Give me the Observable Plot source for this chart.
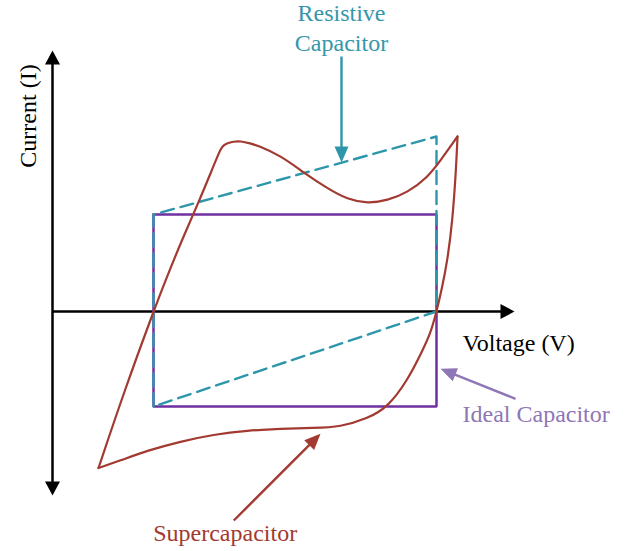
<!DOCTYPE html>
<html>
<head>
<meta charset="utf-8">
<script src="https://cdn.jsdelivr.net/npm/d3@7"></script>
<script src="https://cdn.jsdelivr.net/npm/@observablehq/plot@0.6"></script>
<style>
  html, body { margin: 0; padding: 0; background: #fff; }
  #chart svg { display: block; }
</style>
</head>
<body>
<div id="chart"></div>
<script>
// Ideal capacitor: rectangle
const idealV = [1.01, 3.84, 3.84, 1.01, 1.01];
const idealI = [0.97, 0.97, -0.95, -0.95, 0.97];

// Resistive capacitor: parallelogram (dashed)
const resistiveV = [1.01, 1.01, 3.84, 3.84, 1.01];
const resistiveI = [-0.95, 0.97, 1.75, 0.00, -0.95];

// Supercapacitor: forward (charge) sweep
const superChargeV = [0.46, 0.46, 0.72, 1.01, 1.13, 1.30, 1.46, 1.60, 1.67, 1.70, 1.74, 1.81, 1.88, 1.98, 2.05, 2.28, 2.51, 2.75, 2.95, 3.15, 3.35, 3.55, 3.75, 3.88, 4.05, 4.05];
const superChargeI = [-1.565, -1.565, -0.79, 0.00, 0.31, 0.73, 1.09, 1.43, 1.60, 1.655, 1.68, 1.70, 1.705, 1.68, 1.66, 1.56, 1.39, 1.23, 1.12, 1.08, 1.11, 1.19, 1.34, 1.51, 1.75, 1.75];
// Supercapacitor: reverse (discharge) sweep
const superDischargeV = [4.05, 4.05, 4.035, 4.00, 3.95, 3.89, 3.84, 3.78, 3.70, 3.55, 3.35, 3.15, 2.88, 2.61, 2.28, 1.95, 1.61, 1.28, 0.95, 0.68, 0.46, 0.46];
const superDischargeI = [1.75, 1.75, 1.41, 0.91, 0.51, 0.21, 0.00, -0.22, -0.39, -0.69, -0.96, -1.07, -1.155, -1.165, -1.172, -1.19, -1.23, -1.30, -1.39, -1.49, -1.565, -1.565];

// Axes
const axisNames = ["current", "voltage"];
const axisFromV = [0, 0];
const axisFromI = [-1.84, 0];
const axisToV = [0, 4.62];
const axisToI = [2.61, 0];
const axisDoubleHeaded = [true, false];
const axisTitles = ["Current (I)", "Voltage (V)"];
const axisTitleV = [-0.17, 4.10];
const axisTitleI = [1.955, -0.397];

// Annotation labels and pointer arrows
const seriesKeys = ["resistive", "ideal", "super"];
const labelText = ["Resistive\nCapacitor", "Ideal Capacitor", "Supercapacitor"];
const labelV = [2.89, 4.10, 1.007];
const labelI = [2.61, -1.107, -2.297];
const arrowTailV = [2.89, 4.63, 1.813];
const arrowTailI = [2.55, -0.873, -2.09];
const arrowTipV = [2.89, 3.88, 2.68];
const arrowTipI = [1.49, -0.573, -1.223];

// ---------- STYLES ----------
const W = 629, H = 551;
const xDomain = [-0.52, 5.77];
const yDomain = [-2.40, 3.11];
const PX = W / (xDomain[1] - xDomain[0]); // pixels per unit (same on both axes)
const color = {
  super: "#a23a31",
  superLabel: "#a23a31",
  resistive: "#2e96ab",
  resistiveLabel: "#3596aa",
  ideal: "#7030a0",
  idealLabel: "#8f76b6",
  axis: "#000000"
};
const labelColor = {resistive: color.resistiveLabel, ideal: color.idealLabel, super: color.superLabel};
const arrowColor = {resistive: color.resistive, ideal: color.idealLabel, super: color.super};
const FONT = "'Liberation Serif', 'Times New Roman', serif";

function headSymbol(len, wid) {
  return {draw(ctx) { ctx.moveTo(0, 0); ctx.lineTo(-wid / 2, len); ctx.lineTo(wid / 2, len); ctx.closePath(); }};
}
const AXIS_HEAD = {len: 14, wid: 15};
const NOTE_HEAD = {len: 16, wid: 14};
const angleOf = (x1, y1, x2, y2) => Math.atan2(x2 - x1, y2 - y1) * 180 / Math.PI;
function pullBack(x1, y1, x2, y2, px) {
  const dx = x2 - x1, dy = y2 - y1, L = Math.hypot(dx, dy) * PX, k = (L - px) / L;
  return [x1 + dx * k, y1 + dy * k];
}

// ---------- TABLES ----------
const ideal = idealV.map((v, i) => ({v, i: idealI[i]}));
const resistive = resistiveV.map((v, i) => ({v, i: resistiveI[i]}));
const supercap = [
  ...superChargeV.map((v, k) => ({v, i: superChargeI[k], sweep: "charge"})),
  ...superDischargeV.map((v, k) => ({v, i: superDischargeI[k], sweep: "discharge"}))
];

const axisShafts = axisNames.map((name, k) => {
  const [x1, y1, x2, y2] = [axisFromV[k], axisFromI[k], axisToV[k], axisToI[k]];
  const [ex, ey] = pullBack(x1, y1, x2, y2, AXIS_HEAD.len - 1);
  let sx = x1, sy = y1;
  if (axisDoubleHeaded[k]) [sx, sy] = pullBack(x2, y2, x1, y1, AXIS_HEAD.len - 1);
  return {x1: sx, y1: sy, x2: ex, y2: ey};
});
const axisHeads = [];
axisNames.forEach((name, k) => {
  const x1 = axisFromV[k], y1 = axisFromI[k], x2 = axisToV[k], y2 = axisToI[k];
  axisHeads.push({x: x2, y: y2, a: angleOf(x1, y1, x2, y2)});
  if (axisDoubleHeaded[k]) axisHeads.push({x: x1, y: y1, a: angleOf(x2, y2, x1, y1)});
});
const axisLabels = axisTitles.map((t, k) => ({t, x: axisTitleV[k], y: axisTitleI[k], vertical: k === 0}));

const notes = seriesKeys.map((s, k) => {
  const [ex, ey] = pullBack(arrowTailV[k], arrowTailI[k], arrowTipV[k], arrowTipI[k], NOTE_HEAD.len - 1);
  return {
    s, text: labelText[k], lx: labelV[k], ly: labelI[k],
    x1: arrowTailV[k], y1: arrowTailI[k], x2: ex, y2: ey,
    tx: arrowTipV[k], ty: arrowTipI[k],
    a: angleOf(arrowTailV[k], arrowTailI[k], arrowTipV[k], arrowTipI[k])
  };
});
const textOpts = {x: "lx", y: "ly", text: "text", fill: d => labelColor[d.s], lineAnchor: "bottom", lineHeight: 1.22, fontSize: 24, fontFamily: FONT};

// ---------- PLOT ----------
const chart = Plot.plot({
  width: W,
  height: H,
  margin: 0,
  x: {domain: xDomain, axis: null},
  y: {domain: yDomain, axis: null},
  color: {type: "identity"},
  style: {background: "#fff"},
  marks: [
    // axes
    Plot.link(axisShafts, {x1: "x1", y1: "y1", x2: "x2", y2: "y2", stroke: color.axis, strokeWidth: 2.5}),
    Plot.dot(axisHeads, {x: "x", y: "y", rotate: "a", symbol: headSymbol(AXIS_HEAD.len, AXIS_HEAD.wid), fill: color.axis, stroke: "none"}),
    // ideal capacitor
    Plot.line(ideal, {x: "v", y: "i", stroke: color.ideal, strokeWidth: 2.5, strokeLinejoin: "miter", strokeLinecap: "square"}),
    // resistive capacitor
    Plot.line(resistive, {x: "v", y: "i", stroke: color.resistive, strokeWidth: 2.4, strokeDasharray: "13,7"}),
    // supercapacitor
    Plot.line(supercap, {x: "v", y: "i", z: "sweep", curve: "basis", stroke: color.super, strokeWidth: 2.2}),
    // annotation arrows
    Plot.link(notes, {x1: "x1", y1: "y1", x2: "x2", y2: "y2", stroke: d => arrowColor[d.s], strokeWidth: 2.4}),
    Plot.dot(notes, {x: "tx", y: "ty", rotate: "a", symbol: headSymbol(NOTE_HEAD.len, NOTE_HEAD.wid), fill: d => arrowColor[d.s], stroke: "none"}),
    // annotation labels
    Plot.text(notes.filter(d => d.s === "resistive"), {...textOpts, textAnchor: "middle"}),
    Plot.text(notes.filter(d => d.s !== "resistive"), {...textOpts, textAnchor: "start"}),
    // axis titles
    Plot.text(axisLabels.filter(d => d.vertical), {x: "x", y: "y", text: "t", rotate: -90, textAnchor: "middle", lineAnchor: "bottom", fill: color.axis, fontSize: 24, fontFamily: FONT}),
    Plot.text(axisLabels.filter(d => !d.vertical), {x: "x", y: "y", text: "t", textAnchor: "start", lineAnchor: "bottom", fill: color.axis, fontSize: 24, fontFamily: FONT})
  ]
});
document.getElementById("chart").appendChild(chart);
</script>
</body>
</html>
